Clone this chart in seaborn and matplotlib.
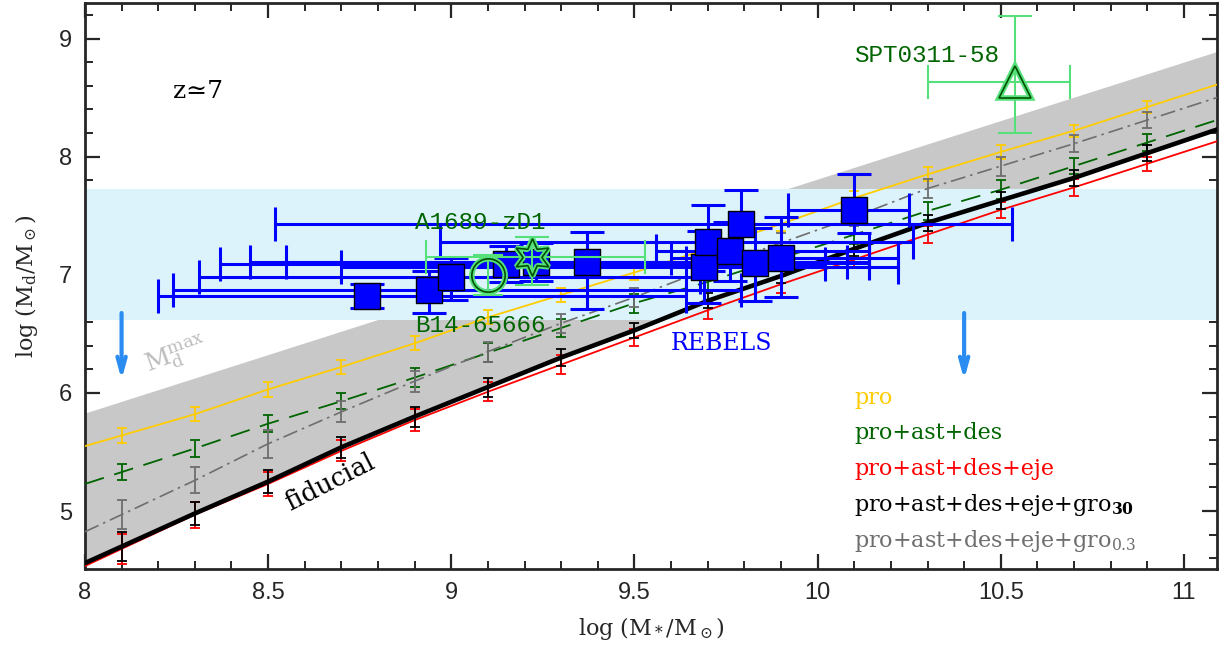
import numpy as np
import pandas as pd
import matplotlib
matplotlib.use("Agg")
import matplotlib.pyplot as plt
import seaborn as sns

sns.set_theme(style="ticks")
plt.rcParams["font.family"] = ["DejaVu Serif", "DejaVu Sans"]
plt.rcParams["mathtext.fontset"] = "dejavuserif"

# model grid (log stellar mass) and dust masses for each run
mass = [8.1, 8.3, 8.5, 8.7, 8.9, 9.1, 9.3, 9.5, 9.7, 9.9, 10.1, 10.3, 10.5, 10.7, 10.9]
pro_y = [5.64, 5.82, 6.03, 6.22, 6.42, 6.64, 6.83, 7.02, 7.22, 7.43, 7.65, 7.85, 8.04, 8.22, 8.42]
pro_err = [0.06, 0.06, 0.06, 0.06, 0.06, 0.06, 0.06, 0.06, 0.06, 0.06, 0.06, 0.06, 0.06, 0.05, 0.05]
ast_y = [5.33, 5.53, 5.74, 5.93, 6.13, 6.34, 6.55, 6.76, 6.94, 7.14, 7.34, 7.54, 7.72, 7.92, 8.12]
ast_err = [0.07, 0.07, 0.07, 0.07, 0.08, 0.08, 0.08, 0.08, 0.08, 0.08, 0.08, 0.08, 0.08, 0.07, 0.07]
eje_y = [4.68, 4.97, 5.23, 5.51, 5.77, 6.01, 6.24, 6.47, 6.70, 6.92, 7.13, 7.34, 7.55, 7.74, 7.94]
eje_err = [0.13, 0.11, 0.10, 0.09, 0.09, 0.08, 0.08, 0.07, 0.07, 0.07, 0.07, 0.07, 0.07, 0.07, 0.06]
gro30_y = [4.70, 4.98, 5.25, 5.54, 5.80, 6.05, 6.30, 6.53, 6.78, 6.99, 7.22, 7.44, 7.63, 7.82, 8.03]
gro30_err = [0.12, 0.10, 0.10, 0.09, 0.085, 0.08, 0.075, 0.065, 0.065, 0.06, 0.06, 0.07, 0.07, 0.07, 0.07]
gro03_y = [4.97, 5.26, 5.57, 5.84, 6.10, 6.35, 6.59, 6.81, 7.05, 7.27, 7.49, 7.73, 7.92, 8.11, 8.31]
gro03_err = [0.12, 0.11, 0.12, 0.09, 0.09, 0.085, 0.08, 0.08, 0.08, 0.08, 0.08, 0.08, 0.08, 0.07, 0.07]

# maximum dust mass limit
mdmax_x = [8.0, 11.1]
mdmax_y = [5.83, 8.90]

# REBELS range (dust mass band)
band_lo, band_hi = 6.62, 7.73

# REBELS galaxies
rebels_x = [8.77, 8.94, 9.00, 9.15, 9.23, 9.37, 9.69, 9.70, 9.76, 9.79, 9.83, 9.90, 10.10]
rebels_y = [6.82, 6.87, 6.98, 7.09, 7.11, 7.11, 7.07, 7.28, 7.20, 7.43, 7.10, 7.14, 7.55]
rebels_xlo = [8.20, 8.24, 8.31, 8.37, 8.45, 8.55, 8.70, 8.97, 9.56, 8.52, 9.64, 9.60, 9.92]
rebels_xhi = [9.64, 9.79, 9.68, 10.02, 10.08, 10.14, 10.22, 10.26, 10.14, 10.53, 10.14, 10.22, 10.25]
rebels_ylo = [6.72, 6.68, 6.79, 6.94, 6.95, 6.71, 6.76, 7.03, 6.95, 7.13, 6.78, 6.81, 7.35]
rebels_yhi = [6.92, 7.03, 7.14, 7.24, 7.27, 7.36, 7.37, 7.59, 7.45, 7.72, 7.40, 7.49, 7.85]

# individual sources
a1689_x, a1689_y = 9.22, 7.15
a1689_xerr, a1689_yerr = [0.29, 0.31], [0.24, 0.17]
b14_x, b14_y = 9.10, 7.00
b14_yerr = [0.17, 0.17]
spt_x, spt_y = 10.54, 8.63
spt_xerr, spt_yerr = [0.24, 0.15], [0.43, 0.56]

# upper-limit arrows
arrow_x = [8.1, 10.4]
arrow_top, arrow_tip = 6.70, 6.09

c_pro, c_ast, c_eje, c_gro30, c_gro03 = "#FFCC00", "#006400", "#FF0000", "black", "#6E6E6E"
c_light_green = "#55E07A"


def extend(x, y, lo=8.0, hi=11.1):
    x = np.asarray(x, dtype=float)
    y = np.asarray(y, dtype=float)
    y_lo = y[0] + (y[1] - y[0]) / (x[1] - x[0]) * (lo - x[0])
    y_hi = y[-1] + (y[-1] - y[-2]) / (x[-1] - x[-2]) * (hi - x[-1])
    return np.r_[lo, x, hi], np.r_[y_lo, y, y_hi]


fig = plt.figure(figsize=(12.24, 6.52), dpi=100)
ax = fig.add_axes([0.0694, 0.1273, 0.9248, 0.868])

# grey area between M_d^max and the fiducial model
fx, fy = extend(mass, gro30_y)
ax.fill_between(fx, fy, np.interp(fx, mdmax_x, mdmax_y), color="#C8C8C8", lw=0, zorder=1)
ax.axhspan(band_lo, band_hi, color="#DCF3FC", lw=0, zorder=2)

series = [
    (pro_y, pro_err, c_pro, 1.3, "-"),
    (ast_y, ast_err, c_ast, 1.3, (0, (11, 6))),
    (eje_y, eje_err, c_eje, 1.3, "-"),
    (gro03_y, gro03_err, c_gro03, 1.2, (0, (9, 3, 1.5, 3))),
    (gro30_y, gro30_err, c_gro30, 3.3, "-"),
]
for yv, ev, col, lw, ls in series:
    ex, ey = extend(mass, yv)
    sns.lineplot(data=pd.DataFrame({"x": ex, "y": ey}), x="x", y="y", color=col,
                 lw=lw, linestyle=ls, ax=ax, zorder=3, estimator=None)
    ax.errorbar(mass, yv, yerr=ev, fmt="none", ecolor=col, elinewidth=1.3,
                capsize=3.5, capthick=1.3, zorder=3)

# REBELS
rx = np.array(rebels_x)
ry = np.array(rebels_y)
ax.errorbar(rx, ry, xerr=[rx - np.array(rebels_xlo), np.array(rebels_xhi) - rx],
            yerr=[ry - np.array(rebels_ylo), np.array(rebels_yhi) - ry],
            fmt="none", ecolor="blue", elinewidth=2.2, capsize=12, capthick=2.2, zorder=4)
sns.scatterplot(x=rx, y=ry, marker="s", s=350, color="blue", edgecolor="black",
                linewidth=1.0, ax=ax, zorder=5)

# A1689-zD1, B14-65666, SPT0311-58
ax.errorbar([a1689_x], [a1689_y], xerr=[[a1689_xerr[0]], [a1689_xerr[1]]],
            yerr=[[a1689_yerr[0]], [a1689_yerr[1]]], fmt="none", ecolor=c_light_green,
            elinewidth=1.5, capsize=12, capthick=1.5, zorder=6)
ax.errorbar([b14_x], [b14_y], yerr=[[b14_yerr[0]], [b14_yerr[1]]], fmt="none",
            ecolor=c_light_green, elinewidth=1.5, capsize=11, capthick=1.5, zorder=6)
ax.errorbar([spt_x], [spt_y], xerr=[[spt_xerr[0]], [spt_xerr[1]]],
            yerr=[[spt_yerr[0]], [spt_yerr[1]]], fmt="none", ecolor=c_light_green,
            elinewidth=1.5, capsize=12, capthick=1.5, zorder=6)
for mx, my, mk, ms in [(a1689_x, a1689_y, (6, 1, 0), 27), (b14_x, b14_y, "o", 24),
                       (spt_x, spt_y, "^", 23)]:
    ax.plot(mx, my, marker=mk, ms=ms, mfc="none", mec=c_light_green, mew=4, zorder=7)
    ax.plot(mx, my, marker=mk, ms=ms, mfc="none", mec="#005000", mew=1.2, zorder=8)

for axx in arrow_x:
    ax.annotate("", xy=(axx, arrow_tip), xytext=(axx, arrow_top),
                arrowprops=dict(arrowstyle="->,head_length=0.9,head_width=0.25",
                                color="#2A8CF0", lw=3), zorder=6)

# labels
mono = ["Liberation Mono", "DejaVu Sans Mono"]
ax.text(8.90, 7.44, "A1689-zD1", color="darkgreen", fontsize=17.5, family=mono,
        va="center", zorder=9)
ax.text(8.90, 6.57, "B14-65666", color="darkgreen", fontsize=17.5, family=mono,
        va="center", zorder=9)
ax.text(10.10, 8.86, "SPT0311-58", color="darkgreen", fontsize=17.5, family=mono,
        va="center", zorder=9)
ax.text(9.60, 6.42, "REBELS", color="blue", fontsize=17, va="center", zorder=9)
ax.text(8.24, 8.55, "z\u22437", color="black", fontsize=18, va="center")
ax.text(8.67, 5.24, "fiducial", color="black", fontsize=18.5, rotation=27,
        ha="center", va="center", zorder=9)
ax.text(8.25, 6.32, r"M$_{\rm d}^{\rm max}$", color="#BDBDBD", fontsize=18, rotation=20,
        ha="center", va="center", zorder=9)

legend_items = [
    ("pro", c_pro, 5.96),
    ("pro+ast+des", c_ast, 5.66),
    ("pro+ast+des+eje", c_eje, 5.36),
    (r"pro+ast+des+eje+gro$_{\mathbf{30}}$", c_gro30, 5.05),
    (r"pro+ast+des+eje+gro$_{0.3}$", c_gro03, 4.75),
]
for txt, col, ty in legend_items:
    ax.text(10.10, ty, txt, color=col, fontsize=16, va="center", zorder=9)

ax.set_xlim(8.0, 11.09)
ax.set_ylim(4.51, 9.30)
ax.set_xticks(np.arange(8.0, 11.01, 0.5))
ax.set_xticks(np.arange(8.0, 11.09, 0.1), minor=True)
ax.set_yticks(np.arange(5, 10, 1))
ax.set_yticks(np.arange(4.6, 9.3, 0.2), minor=True)
ax.set_xticklabels(["8", "8.5", "9", "9.5", "10", "10.5", "11"])
ax.set_yticklabels(["5", "6", "7", "8", "9"])
ax.tick_params(which="both", direction="in", top=True, right=True, labelsize=17)
ax.tick_params(which="major", length=11, width=1.6, pad=9)
ax.tick_params(which="minor", length=6, width=1.4)
for lbl in ax.get_xticklabels() + ax.get_yticklabels():
    lbl.set_family("Liberation Sans")
for sp in ax.spines.values():
    sp.set_linewidth(2.0)

ax.set_xlabel(r"log (M$_*$/M$_\odot$)", fontsize=16, labelpad=8)
ax.set_ylabel(r"log (M$_{\rm d}$/M$_\odot$)", fontsize=16, labelpad=14)

fig.savefig("out.png", dpi=100)
